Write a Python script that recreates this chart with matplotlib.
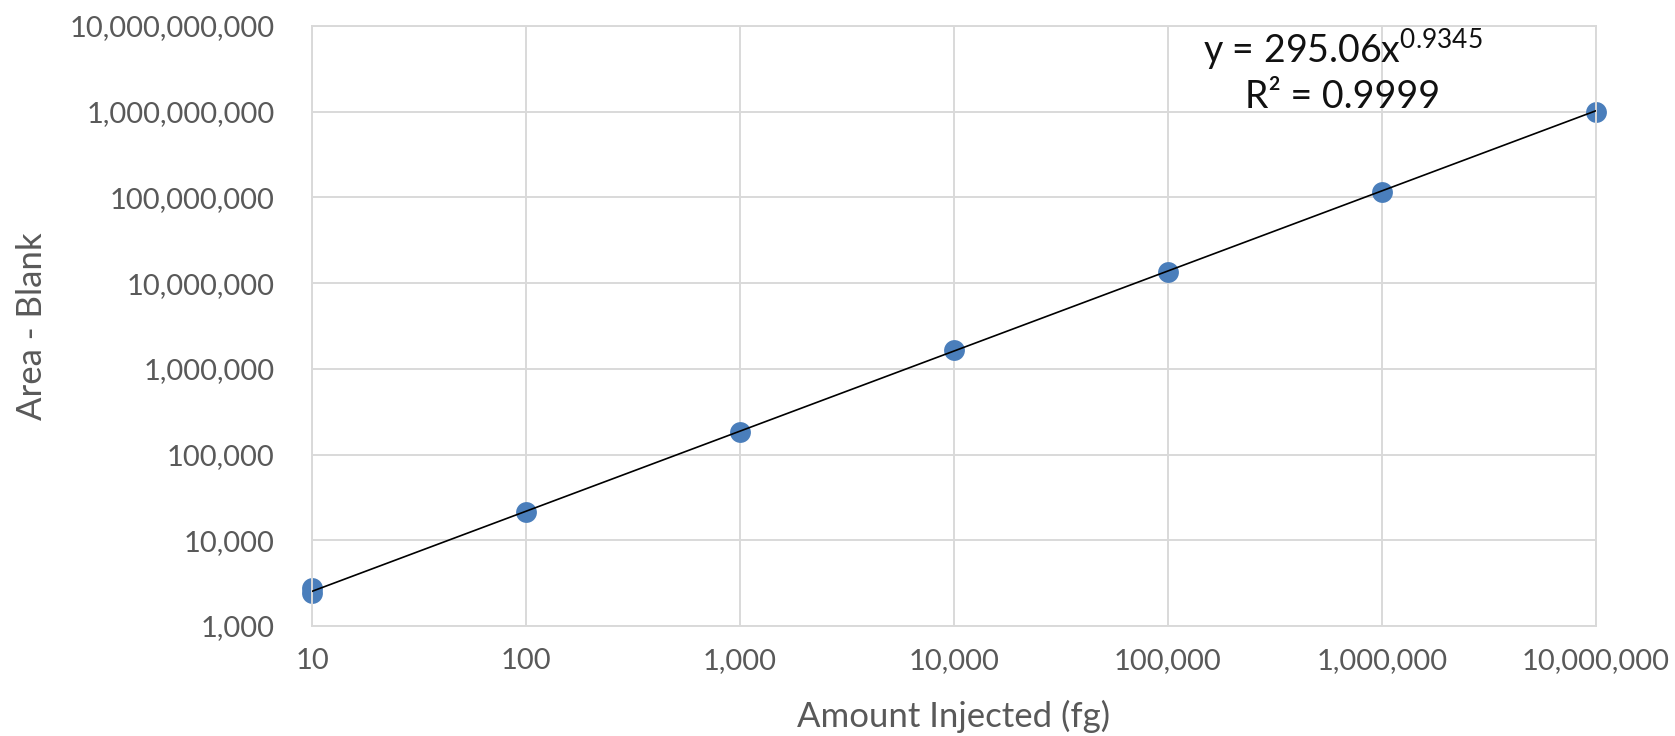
import numpy as np
import matplotlib
matplotlib.use("Agg")
import matplotlib.pyplot as plt
from matplotlib.ticker import FixedLocator, FuncFormatter

# calibration points: amount injected (fg) vs blank-corrected peak area
amount_fg = [10, 10, 100, 1000, 10000, 100000, 1000000, 10000000]
area_minus_blank = [2400, 2750, 21500, 185000, 1650000, 13600000, 117000000, 1000000000]

# power trendline reported for the series
fit_coef = 295.06
fit_exp = 0.9345
fit_r2 = 0.9999

x_ticks = [10, 100, 1000, 10000, 100000, 1000000, 10000000]
y_ticks = [1e3, 1e4, 1e5, 1e6, 1e7, 1e8, 1e9, 1e10]

plt.rcParams['font.family'] = ['Lato', 'DejaVu Sans']
plt.rcParams['mathtext.fontset'] = 'custom'
plt.rcParams['mathtext.rm'] = 'Lato'
plt.rcParams['mathtext.it'] = 'Lato'

grey_txt = '#595959'
grid_col = '#d9d9d9'

fig = plt.figure(figsize=(16.75, 7.36), dpi=100)
ax = fig.add_axes([312 / 1675, 1 - 626 / 736, 1284 / 1675, 600 / 736])

ax.set_xscale('log')
ax.set_yscale('log')
ax.set_xlim(10, 1e7)
ax.set_ylim(1e3, 1e10)

ax.xaxis.set_major_locator(FixedLocator(x_ticks))
ax.yaxis.set_major_locator(FixedLocator(y_ticks))
ax.xaxis.set_minor_locator(FixedLocator([]))
ax.yaxis.set_minor_locator(FixedLocator([]))
comma = FuncFormatter(lambda v, p: f'{v:,.0f}')
ax.xaxis.set_major_formatter(comma)
ax.yaxis.set_major_formatter(comma)

ax.grid(True, color=grid_col, linewidth=1.4)
ax.set_axisbelow(True)
for s in ax.spines.values():
    s.set_color(grid_col)
    s.set_linewidth(1.4)
ax.tick_params(length=0, labelsize=21, labelcolor=grey_txt)
ax.tick_params(axis='x', pad=16)
ax.tick_params(axis='y', pad=27)

# trendline from the fitted power law
xs = np.logspace(1, 7, 200)
ax.plot(xs, fit_coef * xs ** fit_exp, color='black', linewidth=1.2, zorder=3)

ax.plot(amount_fg, area_minus_blank, 'o', color='#4a7ebb', markersize=15,
        markeredgewidth=0, zorder=2, clip_on=False)

ax.text(0.803, 0.962, f'y = {fit_coef:.2f}x$^{{{fit_exp}}}$', transform=ax.transAxes,
        ha='center', va='center', fontsize=27, color='#111111')
ax.text(0.803, 0.882, f'R\u00b2 = {fit_r2}', transform=ax.transAxes,
        ha='center', va='center', fontsize=27, color='#111111')

ax.set_xlabel('Amount Injected (fg)', fontsize=25, color=grey_txt, va='center')
ax.xaxis.set_label_coords(0.5, -0.15)
ax.set_ylabel('Area - Blank', fontsize=25, color=grey_txt, va='center')
ax.yaxis.set_label_coords(-0.218, 0.5)

fig.savefig('out.png', dpi=100)
